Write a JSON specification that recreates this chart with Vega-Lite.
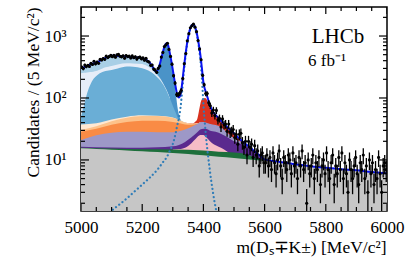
{
"$schema":"https://vega.github.io/schema/vega-lite/v6.json",
"width":306,"height":204,
"autosize":{"type":"none"},
"padding":{"left":81,"top":7,"right":20,"bottom":54},
"config":{"view":{"stroke":"black","strokeWidth":1.5},"font":"Liberation Serif",
"axis":{"labelFont":"Liberation Serif","titleFont":"Liberation Serif","labelFontSize":17,"titleFontSize":17.5,"titleFontWeight":"normal","labelColor":"black","titleColor":"black","domain":false,"grid":false,"ticks":false,"labelFlush":false,"labelOverlap":false,"labelBound":false}},
"datasets":{
"xt":[{"m":5000,"k":1},{"m":5050,"k":0},{"m":5100,"k":0},{"m":5150,"k":0},{"m":5200,"k":1},{"m":5250,"k":0},{"m":5300,"k":0},{"m":5350,"k":0},{"m":5400,"k":1},{"m":5450,"k":0},{"m":5500,"k":0},{"m":5550,"k":0},{"m":5600,"k":1},{"m":5650,"k":0},{"m":5700,"k":0},{"m":5750,"k":0},{"m":5800,"k":1},{"m":5850,"k":0},{"m":5900,"k":0},{"m":5950,"k":0},{"m":6000,"k":1}],
"yt":[{"v":2,"k":0},{"v":3,"k":0},{"v":4,"k":0},{"v":5,"k":0},{"v":6,"k":0},{"v":7,"k":0},{"v":8,"k":0},{"v":9,"k":0},{"v":10,"k":1},{"v":20,"k":0},{"v":30,"k":0},{"v":40,"k":0},{"v":50,"k":0},{"v":60,"k":0},{"v":70,"k":0},{"v":80,"k":0},{"v":90,"k":0},{"v":100,"k":1},{"v":200,"k":0},{"v":300,"k":0},{"v":400,"k":0},{"v":500,"k":0},{"v":600,"k":0},{"v":700,"k":0},{"v":800,"k":0},{"v":900,"k":0},{"v":1000,"k":1},{"v":2000,"k":0}],
"gray":[{"m":5000,"v":15.4},{"m":5050,"v":15.0},{"m":5100,"v":14.6},{"m":5150,"v":14.2},{"m":5200,"v":13.8},{"m":5250,"v":13.4},{"m":5300,"v":13.0},{"m":5350,"v":12.5},{"m":5400,"v":11.9},{"m":5450,"v":11.3},{"m":5500,"v":10.8},{"m":5550,"v":10.2},{"m":5600,"v":9.7},{"m":5650,"v":9.2},{"m":5700,"v":8.5},{"m":5750,"v":7.9},{"m":5800,"v":7.5},{"m":5850,"v":7.1},{"m":5900,"v":6.8},{"m":5950,"v":6.4},{"m":6000,"v":6.1}],
"green":[{"m":5000,"v":15.8},{"m":5100,"v":15.3},{"m":5200,"v":14.9},{"m":5300,"v":14.8},{"m":5400,"v":14.2},{"m":5450,"v":13.6},{"m":5500,"v":13.2},{"m":5540,"v":12.4},{"m":5570,"v":11.0},{"m":5600,"v":9.9},{"m":5615,"v":9.55}],
"pink":[{"m":5300,"v":14.8},{"m":5320,"v":15.0},{"m":5340,"v":15.8},{"m":5360,"v":18.5},{"m":5375,"v":22},{"m":5390,"v":25.3},{"m":5400,"v":25.3},{"m":5410,"v":23},{"m":5420,"v":20.5},{"m":5430,"v":18.5},{"m":5440,"v":17.2},{"m":5450,"v":16.3},{"m":5465,"v":15},{"m":5480,"v":13.4}],
"dpurp":[{"m":5000,"v":16.3},{"m":5100,"v":15.9},{"m":5200,"v":15.8},{"m":5250,"v":16.0},{"m":5300,"v":16.6},{"m":5320,"v":17.5},{"m":5340,"v":19.5},{"m":5360,"v":23},{"m":5380,"v":28},{"m":5390,"v":31},{"m":5400,"v":32},{"m":5410,"v":31.5},{"m":5420,"v":30},{"m":5440,"v":28.5},{"m":5460,"v":26},{"m":5480,"v":23},{"m":5500,"v":20},{"m":5520,"v":18.5},{"m":5540,"v":16.8},{"m":5550,"v":15.8},{"m":5560,"v":14.5},{"m":5570,"v":13.2},{"m":5580,"v":11.5},{"m":5590,"v":10.5}],
"lpurp":[{"m":5000,"v":21.0},{"m":5050,"v":25.0},{"m":5100,"v":27.5},{"m":5150,"v":28.5},{"m":5200,"v":28.5},{"m":5250,"v":28.0},{"m":5300,"v":28.0},{"m":5320,"v":29},{"m":5340,"v":31},{"m":5360,"v":34},{"m":5380,"v":38},{"m":5390,"v":40.5},{"m":5400,"v":41},{"m":5410,"v":40},{"m":5420,"v":38.5},{"m":5440,"v":36.5},{"m":5460,"v":33},{"m":5480,"v":27},{"m":5500,"v":22.5},{"m":5520,"v":20},{"m":5540,"v":17.3},{"m":5550,"v":16.1},{"m":5560,"v":14.6},{"m":5570,"v":13.3},{"m":5580,"v":11.7},{"m":5590,"v":10.6}],
"orange":[{"m":5000,"v":28.6},{"m":5050,"v":32},{"m":5100,"v":37},{"m":5150,"v":41},{"m":5200,"v":43},{"m":5250,"v":43},{"m":5300,"v":41},{"m":5320,"v":39.5},{"m":5340,"v":37.5},{"m":5360,"v":37},{"m":5380,"v":38.5},{"m":5390,"v":40.5}],
"peach":[{"m":5000,"v":30.5},{"m":5050,"v":35},{"m":5100,"v":42},{"m":5150,"v":48},{"m":5200,"v":51},{"m":5250,"v":51},{"m":5300,"v":48},{"m":5320,"v":44},{"m":5340,"v":40},{"m":5360,"v":38.3},{"m":5380,"v":38.8},{"m":5390,"v":40.5}],
"cream":[{"m":5000,"v":37.4},{"m":5050,"v":39},{"m":5100,"v":45},{"m":5150,"v":50},{"m":5200,"v":52.5},{"m":5250,"v":51.5},{"m":5300,"v":48.2},{"m":5320,"v":44.2},{"m":5340,"v":40.2},{"m":5360,"v":38.5},{"m":5380,"v":39},{"m":5390,"v":40.5}],
"red":[{"m":5340,"v":40.2},{"m":5360,"v":38.6},{"m":5370,"v":40},{"m":5375,"v":42},{"m":5380,"v":46},{"m":5385,"v":60},{"m":5390,"v":80},{"m":5395,"v":95},{"m":5400,"v":98},{"m":5405,"v":100},{"m":5410,"v":96},{"m":5415,"v":84},{"m":5420,"v":71},{"m":5425,"v":64},{"m":5430,"v":58},{"m":5440,"v":51},{"m":5450,"v":46},{"m":5460,"v":41},{"m":5470,"v":37},{"m":5480,"v":33},{"m":5490,"v":30},{"m":5500,"v":27},{"m":5510,"v":24},{"m":5520,"v":21.5},{"m":5530,"v":19.5},{"m":5540,"v":17.8},{"m":5550,"v":16.4},{"m":5560,"v":14.8},{"m":5570,"v":13.4},{"m":5580,"v":12.2},{"m":5590,"v":11.1},{"m":5600,"v":10.2},{"m":5620,"v":9.4}],
"blue":[{"m":5000,"v":50},{"m":5010,"v":77},{"m":5020,"v":119},{"m":5030,"v":162},{"m":5040,"v":200},{"m":5050,"v":226},{"m":5060,"v":248},{"m":5070,"v":262},{"m":5080,"v":272},{"m":5090,"v":278},{"m":5100,"v":283},{"m":5120,"v":300},{"m":5150,"v":321},{"m":5170,"v":319},{"m":5200,"v":302},{"m":5220,"v":278},{"m":5240,"v":240},{"m":5250,"v":215},{"m":5260,"v":190},{"m":5270,"v":160},{"m":5280,"v":130},{"m":5290,"v":100},{"m":5300,"v":75},{"m":5310,"v":57},{"m":5320,"v":44},{"m":5330,"v":41},{"m":5340,"v":40.2}],
"pale":[{"m":5000,"v":250},{"m":5010,"v":255},{"m":5020,"v":258},{"m":5030,"v":262},{"m":5040,"v":266},{"m":5050,"v":272},{"m":5060,"v":285},{"m":5070,"v":300},{"m":5080,"v":312},{"m":5090,"v":320},{"m":5100,"v":328},{"m":5120,"v":348},{"m":5150,"v":363},{"m":5170,"v":360},{"m":5200,"v":354},{"m":5210,"v":340},{"m":5220,"v":320},{"m":5230,"v":295},{"m":5240,"v":255},{"m":5250,"v":228},{"m":5260,"v":198},{"m":5270,"v":164},{"m":5280,"v":132},{"m":5290,"v":100}],
"lblue":[{"m":5000,"v":302},{"m":5010,"v":315},{"m":5020,"v":330},{"m":5030,"v":345},{"m":5040,"v":360},{"m":5050,"v":371},{"m":5060,"v":395},{"m":5070,"v":420},{"m":5080,"v":445},{"m":5090,"v":465},{"m":5100,"v":479},{"m":5110,"v":480},{"m":5120,"v":478},{"m":5130,"v":475},{"m":5140,"v":470},{"m":5150,"v":465},{"m":5160,"v":460},{"m":5170,"v":455},{"m":5180,"v":450},{"m":5190,"v":445},{"m":5200,"v":437},{"m":5210,"v":420},{"m":5220,"v":390},{"m":5230,"v":338},{"m":5240,"v":275},{"m":5250,"v":240},{"m":5260,"v":205},{"m":5270,"v":168},{"m":5280,"v":134},{"m":5290,"v":100}],
"b0":[{"m":5220,"v":390},{"m":5230,"v":339},{"m":5240,"v":278},{"m":5245,"v":258},{"m":5250,"v":273},{"m":5255,"v":312},{"m":5260,"v":381},{"m":5265,"v":481},{"m":5270,"v":600},{"m":5275,"v":710},{"m":5280,"v":754},{"m":5285,"v":688},{"m":5290,"v":526},{"m":5295,"v":384},{"m":5300,"v":267},{"m":5305,"v":178},{"m":5310,"v":117},{"m":5315,"v":73},{"m":5320,"v":54},{"m":5325,"v":45},{"m":5330,"v":42},{"m":5340,"v":40.2}],
"total":[{"m":5000,"v":302},{"m":5010,"v":315},{"m":5020,"v":330},{"m":5030,"v":345},{"m":5040,"v":360},{"m":5050,"v":371},{"m":5060,"v":395},{"m":5070,"v":420},{"m":5080,"v":445},{"m":5090,"v":465},{"m":5100,"v":479},{"m":5110,"v":480},{"m":5120,"v":478},{"m":5130,"v":475},{"m":5140,"v":470},{"m":5150,"v":465},{"m":5160,"v":460},{"m":5170,"v":455},{"m":5180,"v":450},{"m":5190,"v":445},{"m":5200,"v":437},{"m":5210,"v":420},{"m":5220,"v":392},{"m":5230,"v":344},{"m":5240,"v":285},{"m":5245,"v":265},{"m":5250,"v":280},{"m":5255,"v":320},{"m":5260,"v":390},{"m":5265,"v":490},{"m":5270,"v":610},{"m":5275,"v":720},{"m":5280,"v":765},{"m":5285,"v":700},{"m":5290,"v":540},{"m":5295,"v":400},{"m":5300,"v":285},{"m":5305,"v":200},{"m":5310,"v":145},{"m":5315,"v":110},{"m":5320,"v":102},{"m":5325,"v":113},{"m":5330,"v":162},{"m":5335,"v":271},{"m":5340,"v":440},{"m":5345,"v":675},{"m":5350,"v":949},{"m":5355,"v":1229},{"m":5360,"v":1439},{"m":5365,"v":1539},{"m":5370,"v":1490},{"m":5375,"v":1302},{"m":5380,"v":1021},{"m":5385,"v":735},{"m":5390,"v":500},{"m":5395,"v":305},{"m":5400,"v":178},{"m":5405,"v":138},{"m":5410,"v":116},{"m":5415,"v":96},{"m":5420,"v":78.5},{"m":5425,"v":69},{"m":5430,"v":61},{"m":5440,"v":53},{"m":5450,"v":47},{"m":5460,"v":41.5},{"m":5470,"v":37},{"m":5480,"v":33},{"m":5490,"v":30},{"m":5500,"v":27},{"m":5510,"v":24},{"m":5520,"v":21.5},{"m":5530,"v":19.5},{"m":5540,"v":17.8},{"m":5550,"v":16.4},{"m":5560,"v":14.8},{"m":5570,"v":13.4},{"m":5580,"v":12.2},{"m":5590,"v":11.1},{"m":5600,"v":10.2},{"m":5650,"v":9.3},{"m":5700,"v":8.5},{"m":5750,"v":7.9},{"m":5800,"v":7.5},{"m":5850,"v":7.1},{"m":5900,"v":6.8},{"m":5950,"v":6.4},{"m":6000,"v":6.1}],
"sig":[{"m":5095,"v":1.4},{"m":5100,"v":1.5},{"m":5125,"v":1.9},{"m":5150,"v":2.4},{"m":5175,"v":3.1},{"m":5200,"v":4.0},{"m":5225,"v":5.2},{"m":5250,"v":7.0},{"m":5270,"v":9.5},{"m":5280,"v":11},{"m":5290,"v":14},{"m":5300,"v":18},{"m":5305,"v":22},{"m":5310,"v":28},{"m":5315,"v":37},{"m":5320,"v":48},{"m":5325,"v":68},{"m":5330,"v":120},{"m":5335,"v":230},{"m":5340,"v":400},{"m":5345,"v":635},{"m":5350,"v":910},{"m":5355,"v":1190},{"m":5360,"v":1400},{"m":5365,"v":1500},{"m":5370,"v":1450},{"m":5375,"v":1260},{"m":5380,"v":975},{"m":5385,"v":675},{"m":5390,"v":420},{"m":5395,"v":210},{"m":5400,"v":80},{"m":5405,"v":38},{"m":5410,"v":20},{"m":5415,"v":12},{"m":5420,"v":7.5},{"m":5425,"v":4.8},{"m":5430,"v":3.3},{"m":5435,"v":2.3},{"m":5440,"v":1.7},{"m":5445,"v":1.3}],
"pts":[{"m":5002.5,"v":314,"e":17.7},{"m":5007.5,"v":298,"e":17.3},{"m":5012.5,"v":340,"e":18.4},{"m":5017.5,"v":321,"e":17.9},{"m":5022.5,"v":336,"e":18.3},{"m":5027.5,"v":323,"e":18.0},{"m":5032.5,"v":362,"e":19.0},{"m":5037.5,"v":348,"e":18.7},{"m":5042.5,"v":392,"e":19.8},{"m":5047.5,"v":356,"e":18.9},{"m":5052.5,"v":381,"e":19.5},{"m":5057.5,"v":363,"e":19.1},{"m":5062.5,"v":419,"e":20.5},{"m":5067.5,"v":410,"e":20.2},{"m":5072.5,"v":434,"e":20.8},{"m":5077.5,"v":420,"e":20.5},{"m":5082.5,"v":473,"e":21.7},{"m":5087.5,"v":449,"e":21.2},{"m":5092.5,"v":469,"e":21.7},{"m":5097.5,"v":489,"e":22.1},{"m":5102.5,"v":464,"e":21.5},{"m":5107.5,"v":487,"e":22.1},{"m":5112.5,"v":456,"e":21.4},{"m":5117.5,"v":495,"e":22.2},{"m":5122.5,"v":505,"e":22.5},{"m":5127.5,"v":472,"e":21.7},{"m":5132.5,"v":461,"e":21.5},{"m":5137.5,"v":480,"e":21.9},{"m":5142.5,"v":439,"e":21.0},{"m":5147.5,"v":485,"e":22.0},{"m":5152.5,"v":466,"e":21.6},{"m":5157.5,"v":474,"e":21.8},{"m":5162.5,"v":442,"e":21.0},{"m":5167.5,"v":477,"e":21.8},{"m":5172.5,"v":448,"e":21.2},{"m":5177.5,"v":462,"e":21.5},{"m":5182.5,"v":424,"e":20.6},{"m":5187.5,"v":450,"e":21.2},{"m":5192.5,"v":458,"e":21.4},{"m":5197.5,"v":429,"e":20.7},{"m":5202.5,"v":443,"e":21.0},{"m":5207.5,"v":408,"e":20.2},{"m":5212.5,"v":437,"e":20.9},{"m":5217.5,"v":392,"e":19.8},{"m":5222.5,"v":381,"e":19.5},{"m":5227.5,"v":337,"e":18.4},{"m":5232.5,"v":340,"e":18.4},{"m":5237.5,"v":293,"e":17.1},{"m":5242.5,"v":283,"e":16.8},{"m":5247.5,"v":260,"e":16.1},{"m":5252.5,"v":301,"e":17.3},{"m":5257.5,"v":328,"e":18.1},{"m":5262.5,"v":457,"e":21.4},{"m":5267.5,"v":543,"e":23.3},{"m":5272.5,"v":675,"e":26.0},{"m":5277.5,"v":720,"e":26.8},{"m":5282.5,"v":765,"e":27.7},{"m":5287.5,"v":608,"e":24.7},{"m":5292.5,"v":468,"e":21.6},{"m":5297.5,"v":351,"e":18.7},{"m":5302.5,"v":229,"e":15.1},{"m":5307.5,"v":174,"e":13.2},{"m":5312.5,"v":114,"e":10.7},{"m":5317.5,"v":113,"e":10.6},{"m":5322.5,"v":119,"e":10.9},{"m":5327.5,"v":133,"e":11.5},{"m":5332.5,"v":206,"e":14.4},{"m":5337.5,"v":357,"e":18.9},{"m":5342.5,"v":522,"e":22.8},{"m":5347.5,"v":836,"e":28.9},{"m":5352.5,"v":1093,"e":33.1},{"m":5357.5,"v":1357,"e":36.8},{"m":5362.5,"v":1464,"e":38.3},{"m":5367.5,"v":1554,"e":39.4},{"m":5372.5,"v":1389,"e":37.3},{"m":5377.5,"v":1177,"e":34.3},{"m":5382.5,"v":844,"e":29.1},{"m":5387.5,"v":620,"e":24.9},{"m":5392.5,"v":414,"e":20.3},{"m":5397.5,"v":232,"e":15.2},{"m":5402.5,"v":164,"e":12.8},{"m":5407.5,"v":118,"e":10.9},{"m":5412.5,"v":118,"e":10.9},{"m":5417.5,"v":84,"e":9.2},{"m":5422.5,"v":75,"e":8.7},{"m":5427.5,"v":57,"e":7.5},{"m":5432.5,"v":64,"e":8.0},{"m":5437.5,"v":52,"e":7.2},{"m":5442.5,"v":63,"e":7.9},{"m":5447.5,"v":44,"e":6.6},{"m":5452.5,"v":47,"e":6.9},{"m":5457.5,"v":34,"e":5.8},{"m":5462.5,"v":46,"e":6.8},{"m":5467.5,"v":37,"e":6.1},{"m":5472.5,"v":38,"e":6.2},{"m":5477.5,"v":29,"e":5.4},{"m":5482.5,"v":38,"e":6.2},{"m":5487.5,"v":28,"e":5.3},{"m":5492.5,"v":29,"e":5.4},{"m":5497.5,"v":31,"e":5.6},{"m":5502.5,"v":23,"e":4.8},{"m":5507.5,"v":26,"e":5.1},{"m":5512.5,"v":18,"e":4.2},{"m":5517.5,"v":26,"e":5.1},{"m":5522.5,"v":27,"e":5.2},{"m":5527.5,"v":19,"e":4.4},{"m":5532.5,"v":16,"e":4.0},{"m":5537.5,"v":20,"e":4.5},{"m":5542.5,"v":12,"e":3.5},{"m":5547.5,"v":20,"e":4.5},{"m":5552.5,"v":16,"e":4.0},{"m":5557.5,"v":18,"e":4.2},{"m":5562.5,"v":11,"e":3.3},{"m":5567.5,"v":17,"e":4.1},{"m":5572.5,"v":12,"e":3.5},{"m":5577.5,"v":14,"e":3.7},{"m":5582.5,"v":8,"e":2.8},{"m":5587.5,"v":12,"e":3.5},{"m":5592.5,"v":13,"e":3.6},{"m":5597.5,"v":9,"e":3.0},
{"m":5602.5,"v":9,"e":3.0},{"m":5607.5,"v":12,"e":3.5},{"m":5612.5,"v":8,"e":2.8},{"m":5617.5,"v":11,"e":3.3},{"m":5622.5,"v":7,"e":2.6},{"m":5627.5,"v":13,"e":3.6},{"m":5632.5,"v":9,"e":3.0},{"m":5637.5,"v":6,"e":2.4},{"m":5642.5,"v":10,"e":3.2},{"m":5647.5,"v":14,"e":3.7},{"m":5652.5,"v":8,"e":2.8},{"m":5657.5,"v":5,"e":2.2},{"m":5662.5,"v":11,"e":3.3},{"m":5667.5,"v":9,"e":3.0},{"m":5672.5,"v":7,"e":2.6},{"m":5677.5,"v":12,"e":3.5},{"m":5682.5,"v":10,"e":3.2},{"m":5687.5,"v":6,"e":2.4},{"m":5692.5,"v":13,"e":3.6},{"m":5697.5,"v":8,"e":2.8},
{"m":5702.5,"v":9,"e":3.0},{"m":5707.5,"v":5,"e":2.2},{"m":5712.5,"v":11,"e":3.3},{"m":5717.5,"v":8,"e":2.8},{"m":5722.5,"v":14,"e":3.7},{"m":5727.5,"v":7,"e":2.6},{"m":5732.5,"v":9,"e":3.0},{"m":5737.5,"v":2,"e":1.4},{"m":5742.5,"v":10,"e":3.2},{"m":5747.5,"v":6,"e":2.4},{"m":5752.5,"v":8,"e":2.8},{"m":5757.5,"v":12,"e":3.5},{"m":5762.5,"v":5,"e":2.2},{"m":5767.5,"v":9,"e":3.0},{"m":5772.5,"v":7,"e":2.6},{"m":5777.5,"v":11,"e":3.3},{"m":5782.5,"v":4,"e":2.0},{"m":5787.5,"v":8,"e":2.8},{"m":5792.5,"v":10,"e":3.2},{"m":5797.5,"v":6,"e":2.4},
{"m":5802.5,"v":13,"e":3.6},{"m":5807.5,"v":7,"e":2.6},{"m":5812.5,"v":5,"e":2.2},{"m":5817.5,"v":9,"e":3.0},{"m":5822.5,"v":12,"e":3.5},{"m":5827.5,"v":4,"e":2.0},{"m":5832.5,"v":8,"e":2.8},{"m":5837.5,"v":6,"e":2.4},{"m":5842.5,"v":11,"e":3.3},{"m":5847.5,"v":7,"e":2.6},{"m":5852.5,"v":13,"e":3.6},{"m":5857.5,"v":5,"e":2.2},{"m":5862.5,"v":9,"e":3.0},{"m":5867.5,"v":6,"e":2.4},{"m":5872.5,"v":3,"e":1.7},{"m":5877.5,"v":10,"e":3.2},{"m":5882.5,"v":7,"e":2.6},{"m":5887.5,"v":5,"e":2.2},{"m":5892.5,"v":8,"e":2.8},{"m":5897.5,"v":11,"e":3.3},
{"m":5902.5,"v":6,"e":2.4},{"m":5907.5,"v":4,"e":2.0},{"m":5912.5,"v":9,"e":3.0},{"m":5917.5,"v":7,"e":2.6},{"m":5922.5,"v":12,"e":3.5},{"m":5927.5,"v":5,"e":2.2},{"m":5932.5,"v":8,"e":2.8},{"m":5937.5,"v":3,"e":1.7},{"m":5942.5,"v":10,"e":3.2},{"m":5947.5,"v":6,"e":2.4},{"m":5952.5,"v":9,"e":3.0},{"m":5957.5,"v":4,"e":2.0},{"m":5962.5,"v":7,"e":2.6},{"m":5967.5,"v":5,"e":2.2},{"m":5972.5,"v":11,"e":3.3},{"m":5977.5,"v":6,"e":2.4},{"m":5982.5,"v":3,"e":1.7},{"m":5987.5,"v":8,"e":2.8},{"m":5992.5,"v":9,"e":3.0},{"m":5997.5,"v":7,"e":2.6}]
},
"layer":[
{"data":{"name":"b0"},"mark":{"type":"area","interpolate":"monotone","clip":true,"color":"#4a93c8"},
"encoding":{"x":{"field":"m","type":"quantitative","title":"m(Dₛ∓K±) [MeV/c²]","scale":{"domain":[5000,6000],"nice":false,"zero":false},
"axis":{"orient":"bottom","values":[5000,5200,5400,5600,5800,6000],"format":"d","labelPadding":8,"titleX":305,"titleY":41,"titleAlign":"right","titleBaseline":"alphabetic","titleAnchor":"end"}},
"y":{"field":"v","type":"quantitative","title":"Candidates  /  (5 MeV/c²)","scale":{"type":"log","domain":[1.5,2940],"nice":false},
"axis":{"orient":"left","values":[10,100,1000],"labelExpr":"datum.value===10?'10¹':datum.value===100?'10²':'10³'","labelPadding":15,"titleX":-48,"titleY":0,"titleAlign":"right","titleBaseline":"middle","titleAngle":-90}},
"y2":{"datum":1.5}}},
{"data":{"name":"lblue"},"mark":{"type":"area","interpolate":"monotone","clip":true,"color":"#a9cfe6"},"encoding":{"x":{"field":"m","type":"quantitative"},"y":{"field":"v","type":"quantitative"},"y2":{"datum":1.5}}},
{"data":{"name":"pale"},"mark":{"type":"area","interpolate":"monotone","clip":true,"color":"#e6edf8"},"encoding":{"x":{"field":"m","type":"quantitative"},"y":{"field":"v","type":"quantitative"},"y2":{"datum":1.5}}},
{"data":{"name":"blue"},"mark":{"type":"area","interpolate":"monotone","clip":true,"color":"#6aaed6"},"encoding":{"x":{"field":"m","type":"quantitative"},"y":{"field":"v","type":"quantitative"},"y2":{"datum":1.5}}},
{"data":{"name":"red"},"mark":{"type":"area","interpolate":"monotone","clip":true,"color":"#d8321f"},"encoding":{"x":{"field":"m","type":"quantitative"},"y":{"field":"v","type":"quantitative"},"y2":{"datum":1.5}}},
{"data":{"name":"cream"},"mark":{"type":"area","interpolate":"monotone","clip":true,"color":"#fee8d2"},"encoding":{"x":{"field":"m","type":"quantitative"},"y":{"field":"v","type":"quantitative"},"y2":{"datum":1.5}}},
{"data":{"name":"peach"},"mark":{"type":"area","interpolate":"monotone","clip":true,"color":"#fdc28a"},"encoding":{"x":{"field":"m","type":"quantitative"},"y":{"field":"v","type":"quantitative"},"y2":{"datum":1.5}}},
{"data":{"name":"orange"},"mark":{"type":"area","interpolate":"monotone","clip":true,"color":"#f98b45"},"encoding":{"x":{"field":"m","type":"quantitative"},"y":{"field":"v","type":"quantitative"},"y2":{"datum":1.5}}},
{"data":{"name":"lpurp"},"mark":{"type":"area","interpolate":"monotone","clip":true,"color":"#9d98c7"},"encoding":{"x":{"field":"m","type":"quantitative"},"y":{"field":"v","type":"quantitative"},"y2":{"datum":1.5}}},
{"data":{"name":"dpurp"},"mark":{"type":"area","interpolate":"monotone","clip":true,"color":"#5a2a8e"},"encoding":{"x":{"field":"m","type":"quantitative"},"y":{"field":"v","type":"quantitative"},"y2":{"datum":1.5}}},
{"data":{"name":"pink"},"mark":{"type":"area","interpolate":"monotone","clip":true,"color":"#f6bcc6"},"encoding":{"x":{"field":"m","type":"quantitative"},"y":{"field":"v","type":"quantitative"},"y2":{"datum":1.5}}},
{"data":{"name":"green"},"mark":{"type":"area","interpolate":"monotone","clip":true,"color":"#1d6f3b"},"encoding":{"x":{"field":"m","type":"quantitative"},"y":{"field":"v","type":"quantitative"},"y2":{"datum":1.5}}},
{"data":{"name":"gray"},"mark":{"type":"area","interpolate":"monotone","clip":true,"color":"#c6c6c6"},"encoding":{"x":{"field":"m","type":"quantitative"},"y":{"field":"v","type":"quantitative"},"y2":{"datum":1.5}}},
{"data":{"name":"sig"},"mark":{"type":"line","interpolate":"monotone","clip":true,"color":"#2e7cb8","strokeWidth":2.2,"strokeDash":[0.1,4],"strokeCap":"round"},"encoding":{"x":{"field":"m","type":"quantitative"},"y":{"field":"v","type":"quantitative"}}},
{"data":{"name":"total"},"mark":{"type":"line","interpolate":"monotone","clip":true,"color":"#0a14f0","strokeWidth":2},"encoding":{"x":{"field":"m","type":"quantitative"},"y":{"field":"v","type":"quantitative"}}},
{"data":{"name":"pts"},"mark":{"type":"errorbar","clip":true,"color":"black","thickness":1.3},"encoding":{"x":{"field":"m","type":"quantitative","title":"m(Dₛ∓K±) [MeV/c²]"},"y":{"field":"v","type":"quantitative","title":"Candidates  /  (5 MeV/c²)"},"yError":{"field":"e"}}},
{"data":{"name":"pts"},"mark":{"type":"point","filled":true,"size":10,"color":"black","opacity":1,"clip":true},"encoding":{"x":{"field":"m","type":"quantitative"},"y":{"field":"v","type":"quantitative"}}},
{"data":{"values":[{"t":"LHCb"}]},"mark":{"type":"text","fontSize":21,"align":"center","baseline":"alphabetic","font":"Liberation Serif","color":"black"},"encoding":{"text":{"field":"t"},"x":{"datum":5840},"y":{"datum":770}}},
{"data":{"values":[{"t":"6 fb⁻¹"}]},"mark":{"type":"text","fontSize":17,"align":"left","baseline":"alphabetic","font":"Liberation Serif","color":"black"},"encoding":{"text":{"field":"t"},"x":{"datum":5742},"y":{"datum":330}}},
{"data":{"name":"xt"},"mark":{"type":"tick","orient":"vertical","clip":true,"color":"black","thickness":1.2,"opacity":1},"encoding":{"x":{"field":"m","type":"quantitative"},"y":{"datum":1.5},"size":{"condition":{"test":"datum.k===1","value":14},"value":8}}},
{"data":{"name":"xt"},"mark":{"type":"tick","orient":"vertical","clip":true,"color":"black","thickness":1.2,"opacity":1},"encoding":{"x":{"field":"m","type":"quantitative"},"y":{"datum":2940},"size":{"condition":{"test":"datum.k===1","value":14},"value":8}}},
{"data":{"name":"yt"},"mark":{"type":"tick","orient":"horizontal","clip":true,"color":"black","thickness":1.2,"opacity":1},"encoding":{"y":{"field":"v","type":"quantitative"},"x":{"datum":5000},"size":{"condition":{"test":"datum.k===1","value":16},"value":8}}},
{"data":{"name":"yt"},"mark":{"type":"tick","orient":"horizontal","clip":true,"color":"black","thickness":1.2,"opacity":1},"encoding":{"y":{"field":"v","type":"quantitative"},"x":{"datum":6000},"size":{"condition":{"test":"datum.k===1","value":16},"value":8}}}
]
}
